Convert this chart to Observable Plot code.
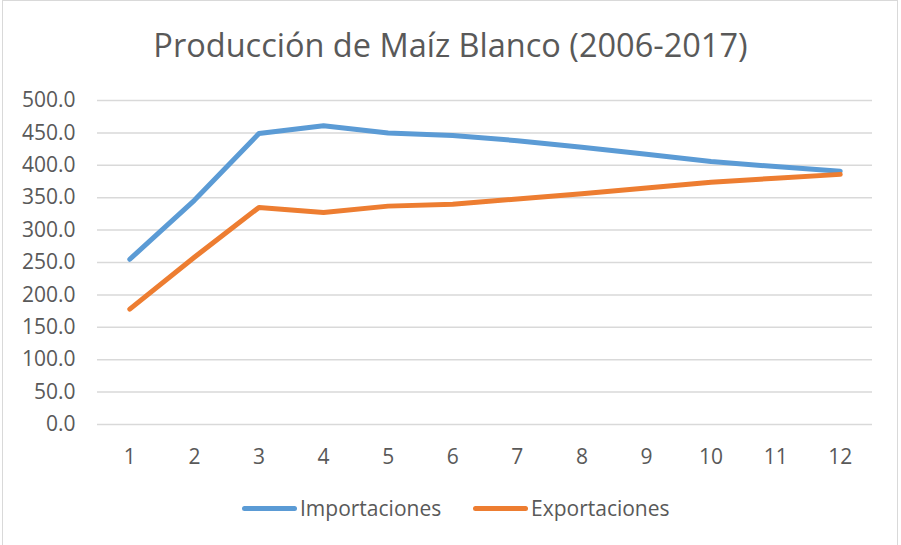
<!DOCTYPE html>
<html>
<head>
<meta charset="utf-8">
<script src="https://cdn.jsdelivr.net/npm/d3@7"></script>
<script src="https://cdn.jsdelivr.net/npm/@observablehq/plot@0.6"></script>
<style>
  html, body { margin: 0; padding: 0; background: #fff; }
  #wrap { position: relative; width: 901px; height: 545px; overflow: hidden; font-family: "Open Sans", sans-serif; color: #595959; }
  #frame { position: absolute; left: 2px; top: 0px; width: 896px; height: 560px; border: 1.5px solid #d9d9d9; box-sizing: border-box; }
  #title { position: absolute; left: 0; top: 23px; width: 901px; text-align: center; font-size: 32.5px; line-height: 44px; color: #595959; }
  #chart { position: absolute; left: 0; top: 85px; }
  #legend { position: absolute; left: 0; top: 492px; width: 901px; height: 32px; }
  .item { position: absolute; top: 0; height: 32px; display: flex; align-items: center; font-size: 21px; color: #595959; }
  .swatch { display: inline-block; width: 55px; height: 5px; border-radius: 3px; margin-right: 3px; }
</style>
</head>
<body>
<div id="wrap">
  <div id="frame"></div>
  <div id="title">Producción de Maíz Blanco (2006-2017)</div>
  <div id="chart"></div>
  <div id="legend"></div>
</div>
<script>
const years = [1, 2, 3, 4, 5, 6, 7, 8, 9, 10, 11, 12];
const importaciones = [255, 346, 449, 461, 450, 446, 438, 428, 417, 406, 398, 391];
const exportaciones = [178, 258, 335, 327, 337, 340, 348, 356, 365, 374, 380, 386];
const seriesNames = ["Importaciones", "Exportaciones"];
const seriesColors = ["#5B9BD5", "#ED7D31"];
const yTicks = [0, 50, 100, 150, 200, 250, 300, 350, 400, 450, 500];

const data = [];
years.forEach((x, i) => {
  data.push({x, y: importaciones[i], s: seriesNames[0]});
  data.push({x, y: exportaciones[i], s: seriesNames[1]});
});

const chart = Plot.plot({
  width: 901,
  height: 400,
  marginLeft: 97,
  marginRight: 29,
  marginTop: 15,
  marginBottom: 61,
  style: {fontFamily: "Open Sans, sans-serif", fontSize: "21px", color: "#595959", background: "transparent"},
  x: {domain: [0.5, 12.5], ticks: years, tickFormat: d => String(d), label: null},
  y: {domain: [0, 500], ticks: yTicks, tickFormat: d => d.toFixed(1), label: null},
  color: {domain: seriesNames, range: seriesColors},
  marks: [
    Plot.gridY(yTicks, {stroke: "#d9d9d9", strokeOpacity: 1, strokeWidth: 1.5}),
    Plot.axisY({ticks: yTicks, tickSize: 0, tickPadding: 22, tickFormat: d => d.toFixed(1), fill: "#595959", label: null}),
    Plot.axisX({ticks: years, tickSize: 0, tickPadding: 25, fill: "#595959", label: null}),
    Plot.line(data, {x: "x", y: "y", z: "s", stroke: "s", strokeWidth: 5, strokeLinejoin: "round", strokeLinecap: "round"})
  ]
});
document.getElementById("chart").appendChild(chart);

const legend = document.getElementById("legend");
const lefts = [242, 473];
seriesNames.forEach((name, i) => {
  const it = document.createElement("div");
  it.className = "item";
  it.style.left = lefts[i] + "px";
  const sw = document.createElement("span");
  sw.className = "swatch";
  sw.style.background = seriesColors[i];
  it.appendChild(sw);
  it.appendChild(document.createTextNode(name));
  legend.appendChild(it);
});
</script>
</body>
</html>
